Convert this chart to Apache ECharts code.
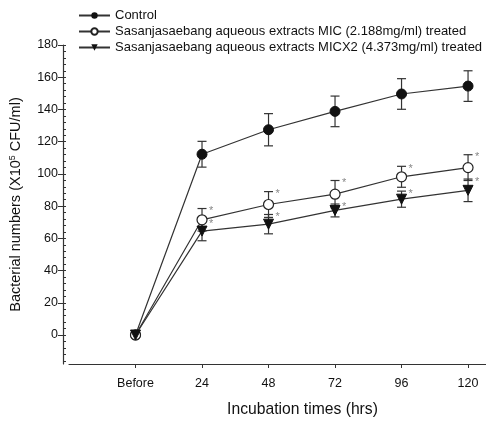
<!DOCTYPE html>
<html><head><meta charset="utf-8">
<script src="https://cdn.jsdelivr.net/npm/echarts@6/dist/echarts.min.js"></script>
<style>html,body{margin:0;padding:0;background:#fff}#c{width:486px;height:423px}</style>
</head><body><div id="c"></div>
<script>
const categories = ['Before', '24', '48', '72', '96', '120'];
const controlVals = [0, 112.2, 127.4, 138.8, 149.6, 154.5];
const controlErr = [0, 8, 10, 9.5, 9.5, 9.5];
const micVals = [0, 71.5, 81, 87.4, 98.2, 103.9];
const micErr = [0, 7, 8, 8.5, 6.5, 8];
const micx2Vals = [0, 64.5, 68.8, 77.3, 84.3, 89.8];
const micx2Err = [0, 6, 6, 4, 5, 7];
const micSig = [false, true, true, true, true, true];
const micx2Sig = [false, true, true, true, true, true];
const yTickLabels = [0, 20, 40, 60, 80, 100, 120, 140, 160, 180];
const yMinorTicks = [-16, -12, -8, -4, 0, 4, 8, 12, 16, 20, 24, 28, 32, 36, 40, 44, 48, 52, 56, 60, 64, 68, 72, 76, 80, 84, 88, 92, 96, 100, 104, 108, 112, 116, 120, 124, 128, 132, 136, 140, 144, 148, 152, 156, 160, 164, 168, 172, 176, 180];
const names = ['Control', 'Sasanjasaebang aqueous extracts MIC (2.188mg/ml) treated', 'Sasanjasaebang aqueous extracts MICX2 (4.373mg/ml) treated'];

const xIdx = categories.map((c, i) => i);
function pts(vals) { return vals.map((v, i) => [i, v]); }
function errData(vals, errs, sig) { return vals.map((v, i) => [i, v, errs[i], sig ? (sig[i] ? 1 : 0) : 0]); }

function renderErr(params, api) {
  const x = api.value(0), y = api.value(1), e = api.value(2), s = api.value(3);
  if (e <= 0) return null;
  const top = api.coord([x, y + e]);
  const bot = api.coord([x, y - e]);
  const hw = 4.5;
  const st = { stroke: '#333', lineWidth: 1.2 };
  const children = [
    { type: 'line', shape: { x1: top[0], y1: top[1], x2: bot[0], y2: bot[1] }, style: st },
    { type: 'line', shape: { x1: top[0] - hw, y1: top[1], x2: top[0] + hw, y2: top[1] }, style: st },
    { type: 'line', shape: { x1: bot[0] - hw, y1: bot[1], x2: bot[0] + hw, y2: bot[1] }, style: st }
  ];
  if (s) {
    children.push({ type: 'text', x: top[0] + 7, y: top[1] - 3, style: { text: '*', fill: '#888', font: '11px "Liberation Sans", Arial' } });
  }
  return { type: 'group', children };
}

const lineStyle = { color: '#333', width: 1.2 };
const chart = echarts.init(document.getElementById('c'), null, { renderer: 'canvas' });
chart.setOption({
  animation: false,
  textStyle: { fontFamily: '"Liberation Sans", Arial, sans-serif' },
  grid: { left: 68, right: 0, top: 45, bottom: 55, containLabel: false },
  legend: {
    orient: 'vertical', left: 73, top: 4, itemGap: 3, itemWidth: 31, itemHeight: 8,
    textStyle: { fontSize: 13, color: '#111', fontFamily: '"Liberation Sans", Arial' },
    data: names
  },
  xAxis: {
    type: 'value', min: -1, max: 5.27, interval: 1,
    splitLine: { show: false },
    axisLine: { onZero: false, lineStyle: { color: '#333', width: 1.2 } },
    axisTick: { customValues: xIdx, length: 4, lineStyle: { color: '#333' } },
    axisLabel: { customValues: xIdx, formatter: v => categories[Math.round(v)], color: '#111', fontSize: 12.5, margin: 13 },
    name: 'Incubation times (hrs)', nameLocation: 'middle', nameGap: 38,
    nameTextStyle: { fontSize: 15.7, color: '#111', padding: [0, 0, 0, 50] }
  },
  yAxis: [{
    type: 'value', min: -18, max: 180, offset: 6,
    splitLine: { show: false },
    axisLine: { show: true, onZero: false, lineStyle: { color: '#333', width: 1.2 } },
    axisTick: { customValues: yTickLabels, length: 5, lineStyle: { color: '#333' } },
    axisLabel: { customValues: yTickLabels, color: '#111', fontSize: 12.5, margin: 5 },
    name: '{a|Bacterial numbers (X10}{s|5}{a| CFU/ml)}', nameLocation: 'middle', nameGap: 39,
    nameTextStyle: { rich: { a: { fontSize: 14.5, color: '#111' }, s: { fontSize: 9, color: '#111', verticalAlign: 'top', padding: [0, 0, 7, 0] } } }
  }, {
    type: 'value', min: -18, max: 180, offset: 6, position: 'left',
    splitLine: { show: false },
    axisLine: { show: false, onZero: false },
    axisTick: { show: true, inside: true, customValues: yMinorTicks, length: 3, lineStyle: { color: '#333' } },
    axisLabel: { show: false }
  }],
  series: [
    { type: 'custom', name: 'errC', renderItem: renderErr, data: errData(controlVals, controlErr, null), z: 1, encode: { x: 0, y: 1 } },
    { type: 'custom', name: 'errM', renderItem: renderErr, data: errData(micVals, micErr, micSig), z: 1, encode: { x: 0, y: 1 } },
    { type: 'custom', name: 'errM2', renderItem: renderErr, data: errData(micx2Vals, micx2Err, micx2Sig), z: 1, encode: { x: 0, y: 1 } },
    { type: 'line', name: names[0], data: pts(controlVals), symbol: 'circle', symbolSize: 10, lineStyle, itemStyle: { color: '#111', borderColor: '#111' }, z: 3 },
    { type: 'line', name: names[1], data: pts(micVals), symbol: 'circle', symbolSize: 10, lineStyle, itemStyle: { color: '#fff', borderColor: '#222', borderWidth: 1.2 }, z: 3 },
    { type: 'line', name: names[2], data: pts(micx2Vals), symbol: 'triangle', symbolRotate: 180, symbolSize: 10, lineStyle, itemStyle: { color: '#111', borderColor: '#111' }, z: 3 }
  ]
});
</script></body></html>
